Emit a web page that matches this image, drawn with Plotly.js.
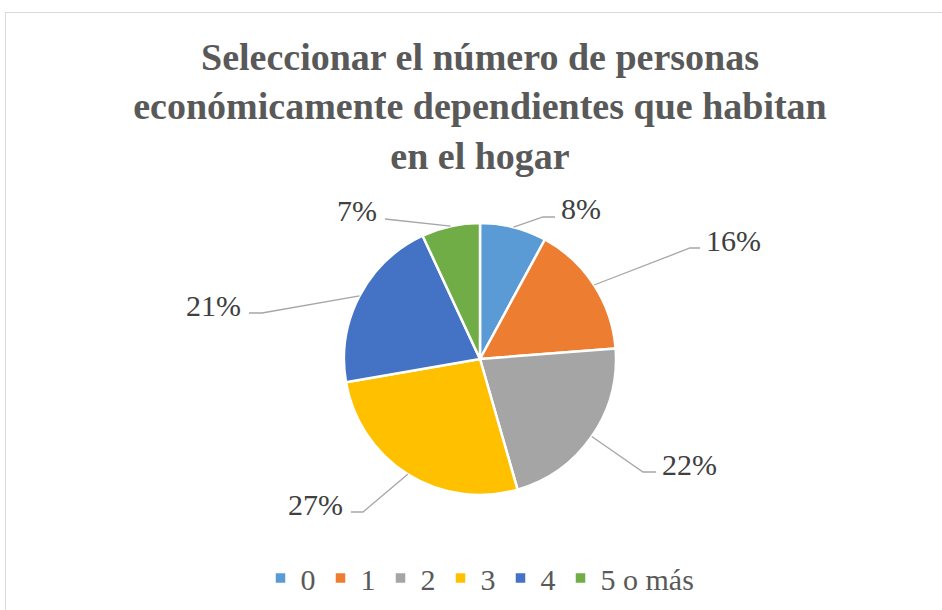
<!DOCTYPE html>
<html>
<head>
<meta charset="utf-8">
<script src="https://cdn.plot.ly/plotly-3.0.1.min.js"></script>
<style>
  body { margin: 0; background: #fff; overflow: hidden; }
  #frame { position: absolute; left: 5px; top: 12px; width: 1000px; height: 700px; border: 1.5px solid #d9d9d9; }
  #chart { position: absolute; left: 0; top: 0; width: 942px; height: 610px; }
</style>
</head>
<body>
<div id="frame"></div>
<div id="chart"></div>
<script>
const categorias = ["0", "1", "2", "3", "4", "5 o más"];
const porcentajes = [8, 16, 22, 27, 21, 7];
const colores = ["#5B9BD5", "#ED7D31", "#A5A5A5", "#FFC000", "#4472C4", "#70AD47"];

// where each data label sits (px): elbow of the leader line, end of the horizontal bit
const codos = [[543, 217, 555], [690, 248, 700], [643, 472, 656], [363, 512, 351], [262, 313, 249], [385, 219, 385]];

const W = 942, H = 610;
const CX = 480, CY = 359, R = 136;
const serif = "Liberation Serif, Times New Roman, serif";

const px = (x) => x / W;
const py = (y) => 1 - y / H;

const total = porcentajes.reduce((a, b) => a + b, 0);
let acum = 0;
const shapes = [];
const annotations = [];
porcentajes.forEach((v, i) => {
  const ang = ((acum + v / 2) / total) * 2 * Math.PI;
  acum += v;
  const sx = CX + R * Math.sin(ang), sy = CY - R * Math.cos(ang);
  const [ex, ey, hx] = codos[i];
  shapes.push({
    type: "path", xref: "paper", yref: "paper",
    path: `M ${px(sx)},${py(sy)} L ${px(ex)},${py(ey)} L ${px(hx)},${py(ey)}`,
    line: { color: "#a6a6a6", width: 1.3 },
  });
  const izq = hx < CX;
  annotations.push({
    xref: "paper", yref: "paper", showarrow: false,
    x: px(hx + (izq ? -6 : 4)), y: py(ey - 8),
    xanchor: izq ? "right" : "left", yanchor: "middle",
    text: v + "%",
    font: { family: serif, size: 30, color: "#404040" },
  });
});

Plotly.newPlot("chart", [{
  type: "pie",
  labels: categorias,
  values: porcentajes,
  sort: false,
  direction: "clockwise",
  rotation: 0,
  textinfo: "none",
  hoverinfo: "label+percent",
  marker: { colors: colores, line: { color: "#ffffff", width: 2.5 } },
  domain: { x: [px(CX - R), px(CX + R)], y: [py(CY + R), py(CY - R)] },
}], {
  width: W, height: H,
  margin: { l: 0, r: 0, t: 0, b: 0 },
  paper_bgcolor: "rgba(0,0,0,0)",
  title: {
    text: "Seleccionar el número de personas<br>económicamente dependientes que habitan<br>en el hogar",
    font: { family: serif, size: 38, color: "#595959", weight: "bold" },
    x: px(CX), xanchor: "center", xref: "paper",
    y: py(70), yanchor: "top", yref: "container",
  },
  showlegend: true,
  legend: {
    orientation: "h", x: px(CX), xanchor: "center", y: py(578), yanchor: "middle",
    font: { family: serif, size: 30, color: "#595959" },
    itemclick: false,
  },
  shapes: shapes,
  annotations: annotations,
}, { displayModeBar: false });
</script>
</body>
</html>
